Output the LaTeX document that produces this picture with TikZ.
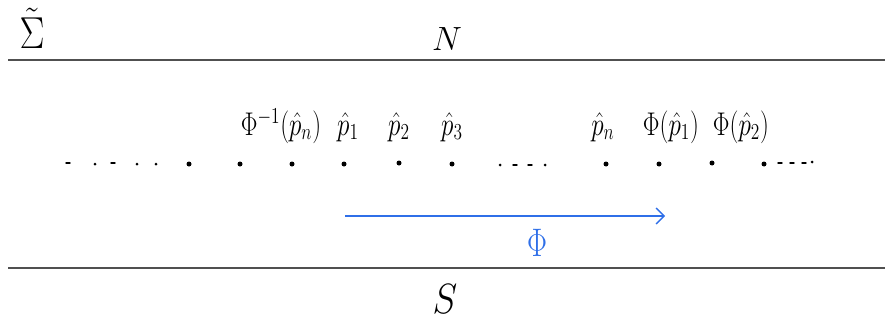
\documentclass[tikz,border=0pt]{standalone}
\usepackage{graphicx}
\usetikzlibrary{arrows.meta}
\definecolor{rule}{HTML}{505050}
\definecolor{arrowblue}{HTML}{2F6FE8}
\newcommand{\biglab}[1]{\scalebox{1.45}[1.9]{$#1$}}
\tikzset{
  boundary/.style={draw=rule, line width=2.2pt},
  pt/.style={circle, fill=black, inner sep=0pt, minimum size=5pt},
  smallpt/.style={circle, fill=black, inner sep=0pt, minimum size=3pt},
  dsh/.style={draw=black, line width=1.4pt, line cap=round},
  lab/.style={font=\LARGE, inner sep=0pt},
  big/.style={font=\Huge, inner sep=0pt},
}
\begin{document}
\begin{tikzpicture}[x=1pt,y=-1pt]
\useasboundingbox (0,0) rectangle (885,324);
% boundaries
\coordinate (tl) at (8,60); \coordinate (tr) at (885,60);
\coordinate (bl) at (8,268); \coordinate (br) at (885,268);
\draw[boundary] (tl) -- (tr);
\draw[boundary] (bl) -- (br);
% region labels
\node[big] (sigma) at (32,28) {\scalebox{1.5}[1.8]{$\tilde{\Sigma}$}};
\node[big] (N) at (447,39) {\scalebox{1.35}{$N$}};
\node[big] (S) at (445,299) {\scalebox{1.5}[1.7]{$S$}};
% leading dashes
\foreach \x in {68,113} \draw[dsh] (\x-2,163) -- (\x+2,163);
\foreach \x in {95,137,156} \node[smallpt] at (\x,164) {};
% points
\node[pt] (q0) at (189,164) {};
\node[pt] (q1) at (240,164) {};
\node[pt] (pm) at (292,164) {};
\node[pt] (p1) at (344,164) {};
\node[pt] (p2) at (399,163) {};
\node[pt] (p3) at (452,164) {};
\foreach \x in {500,545} \node[smallpt] at (\x,165) {};
\foreach \x in {515,530} \draw[dsh] (\x-2,165) -- (\x+2,165);
\node[pt] (pn) at (606,164) {};
\node[pt] (f1) at (659,164) {};
\node[pt] (f2) at (712,163) {};
\node[pt] (q2) at (764,164) {};
\foreach \x in {780,792,804} \draw[dsh] (\x-2,163) -- (\x+2,163);
\node[smallpt] at (812,162) {};
% labels
\node[lab, anchor=base] (lpm) at (281,135) {\biglab{\Phi^{-1}(\hat{p}_n)}};
\node[lab, anchor=base] (lp1) at (348,135) {\biglab{\hat{p}_1}};
\node[lab, anchor=base] (lp2) at (399,135) {\biglab{\hat{p}_2}};
\node[lab, anchor=base] (lp3) at (452,135) {\biglab{\hat{p}_3}};
\node[lab, anchor=base] (lpn) at (603,135) {\biglab{\hat{p}_n}};
\node[lab, anchor=base] (lf1) at (671,135) {\biglab{\Phi(\hat{p}_1)}};
\node[lab, anchor=base] (lf2) at (741,135) {\biglab{\Phi(\hat{p}_2)}};
% map arrow
\coordinate (a0) at (345,216);
\coordinate (a1) at (665,216);
\draw[draw=arrowblue, line width=1.4pt, -{Straight Barb[length=8pt,width=16pt]}] (a0) -- (a1);
\node[big, text=arrowblue] (phi) at (537,243) {\scalebox{1.2}[1.6]{$\Phi$}};
\end{tikzpicture}
\end{document}
